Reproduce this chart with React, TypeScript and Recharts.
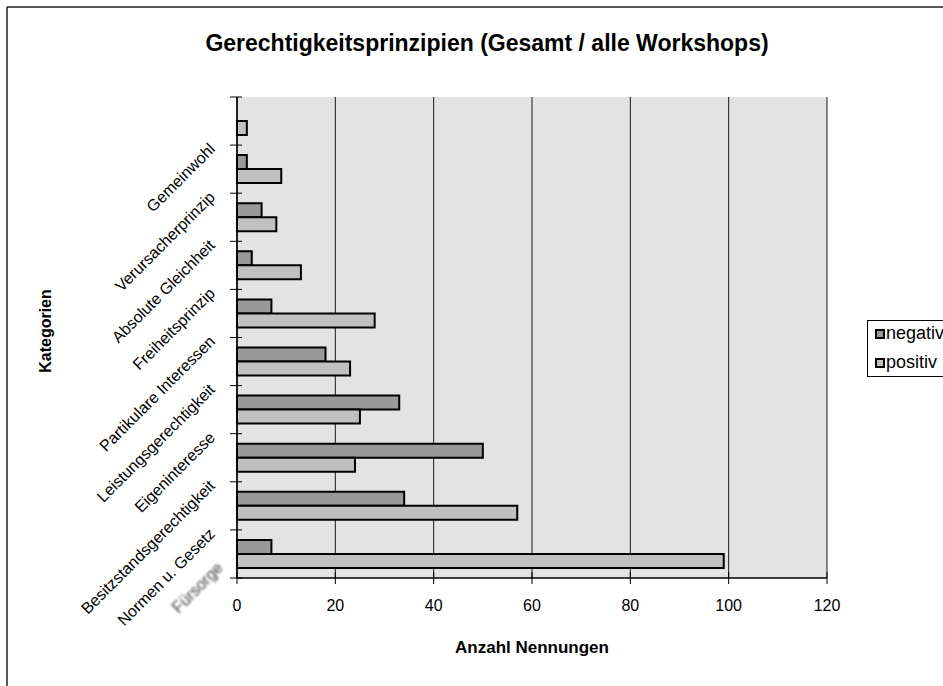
import { BarChart, Bar, XAxis, YAxis, CartesianGrid } from 'recharts';

const categories = [
  'Gemeinwohl',
  'Verursacherprinzip',
  'Absolute Gleichheit',
  'Freiheitsprinzip',
  'Partikulare Interessen',
  'Leistungsgerechtigkeit',
  'Eigeninteresse',
  'Besitzstandsgerechtigkeit',
  'Normen u. Gesetz',
  'Fürsorge',
];
const negativ = [0, 2, 5, 3, 7, 18, 33, 50, 34, 7];
const positiv = [2, 9, 8, 13, 28, 23, 25, 24, 57, 99];
const xTicks = [0, 20, 40, 60, 80, 100, 120];

const FONT = '"Liberation Sans", Arial, sans-serif';
const W = 943;
const H = 686;
const PLOT_TOP = 97;
const PLOT_BOTTOM = 578;

const data = categories.map((name, i) => ({
  name,
  negativ: negativ[i],
  positiv: positiv[i],
}));

function CategoryTick(props: any) {
  const { x, y, payload, index } = props;
  const half =
    payload && payload.offset ? payload.offset : (PLOT_BOTTOM - PLOT_TOP) / categories.length / 2;
  const last = index === categories.length - 1;
  const ax = last ? x - 13 : x - 21;
  const ay = last ? y + 15 : y + 29;
  return (
    <g>
      <line x1={x - 7} x2={x + 5} y1={y - half} y2={y - half} stroke="#000" strokeWidth={1} />
      {last && (
        <line x1={x - 7} x2={x + 5} y1={y + half} y2={y + half} stroke="#000" strokeWidth={1} />
      )}
      <text
        x={ax}
        y={ay}
        textAnchor="end"
        fontSize={16}
        fontFamily={FONT}
        fill={last ? '#444' : '#000'}
        filter={last ? 'url(#soft)' : undefined}
        transform={`rotate(-45 ${ax} ${ay})`}
      >
        {payload.value}
      </text>
    </g>
  );
}

function ValueTick(props: any) {
  const { x, y, payload } = props;
  return (
    <g>
      <line x1={x} x2={x} y1={y - 6} y2={y + 6} stroke="#000" strokeWidth={1} />
      <text x={x} y={y + 33} textAnchor="middle" fontSize={16} fontFamily={FONT} fill="#000">
        {payload.value}
      </text>
    </g>
  );
}

export default function App() {
  return (
    <div
      style={{
        position: 'absolute',
        left: 0,
        top: 0,
        width: W,
        height: H,
        overflow: 'hidden',
        background: '#fff',
        fontFamily: FONT,
      }}
    >
      <svg width={0} height={0} style={{ position: 'absolute' }}>
        <defs>
          <filter id="soft" x="-10%" y="-30%" width="120%" height="160%">
            <feGaussianBlur stdDeviation="0.8" />
          </filter>
        </defs>
      </svg>
      <BarChart
        width={W}
        height={H}
        data={data}
        layout="vertical"
        margin={{ top: PLOT_TOP, right: 116, bottom: 0, left: 0 }}
        barCategoryGap={10}
        barGap={0}
      >
        <CartesianGrid horizontal={false} stroke="#1a1a1a" fill="#e3e3e3" />
        <XAxis
          type="number"
          domain={[0, 120]}
          ticks={xTicks}
          height={H - PLOT_BOTTOM}
          tickSize={0}
          tickMargin={0}
          tickLine={false}
          axisLine={{ stroke: '#000', strokeWidth: 1.5 }}
          tick={<ValueTick />}
          interval={0}
        />
        <XAxis
          xAxisId="top"
          orientation="top"
          type="number"
          domain={[0, 120]}
          height={0}
          tick={false}
          tickLine={false}
          axisLine={{ stroke: '#888', strokeWidth: 2 }}
        />
        <YAxis
          type="category"
          dataKey="name"
          width={237}
          tickSize={0}
          tickMargin={0}
          tickLine={false}
          axisLine={{ stroke: '#000', strokeWidth: 1.5 }}
          tick={<CategoryTick />}
          interval={0}
        />
        <YAxis
          yAxisId="right"
          orientation="right"
          type="category"
          dataKey="name"
          width={0}
          tick={false}
          tickLine={false}
          axisLine={{ stroke: '#888', strokeWidth: 2 }}
        />
        <Bar dataKey="negativ" fill="#999999" stroke="#000" strokeWidth={2} isAnimationActive={false} />
        <Bar dataKey="positiv" fill="#c0c0c0" stroke="#000" strokeWidth={2} isAnimationActive={false} />
      </BarChart>
      <svg
        width={W}
        height={H}
        style={{ position: 'absolute', left: 0, top: 0, pointerEvents: 'none' }}
      >
        <line x1={7} y1={7} x2={W} y2={7} stroke="#222" strokeWidth={1.5} />
        <line x1={7} y1={7} x2={7} y2={H} stroke="#222" strokeWidth={1.5} />
        <text x={487} y={51} textAnchor="middle" fontSize={23} fontWeight="bold" fontFamily={FONT}>
          Gerechtigkeitsprinzipien (Gesamt / alle Workshops)
        </text>
        <text x={532} y={653} textAnchor="middle" fontSize={17} fontWeight="bold" fontFamily={FONT}>
          Anzahl Nennungen
        </text>
        <text
          x={51}
          y={331}
          textAnchor="middle"
          fontSize={16}
          fontWeight="bold"
          fontFamily={FONT}
          transform="rotate(-90 51 331)"
        >
          Kategorien
        </text>
        <rect x={867.5} y={320.5} width={110} height={56} fill="#fff" stroke="#000" strokeWidth={1} />
        <rect x={876} y={330} width={8} height={8} fill="#999999" stroke="#000" strokeWidth={2} />
        <text x={886} y={339} fontSize={18} fontFamily={FONT}>
          negativ
        </text>
        <rect x={876} y={359} width={8} height={8} fill="#c0c0c0" stroke="#000" strokeWidth={2} />
        <text x={886} y={368} fontSize={18} fontFamily={FONT}>
          positiv
        </text>
      </svg>
    </div>
  );
}
